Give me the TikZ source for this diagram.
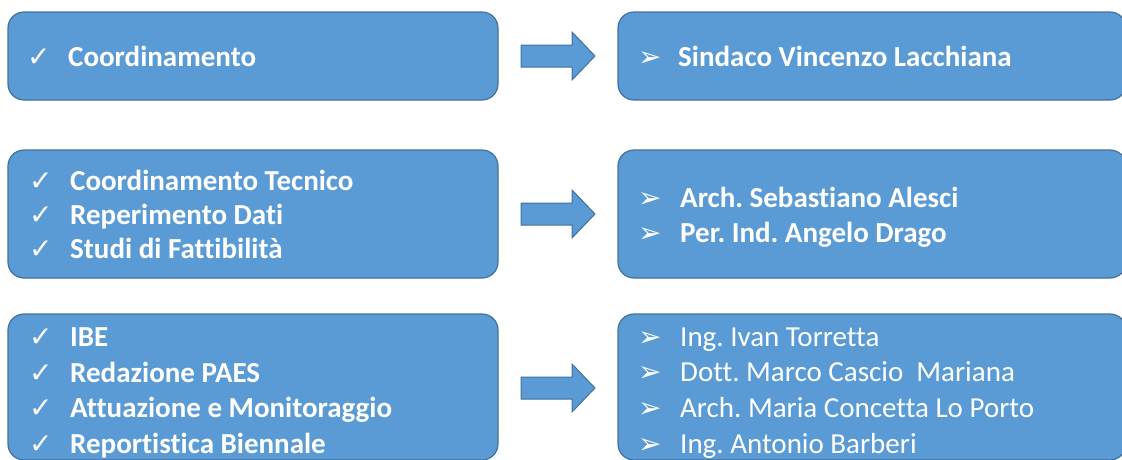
\documentclass[tikz,border=0pt]{standalone}
\usepackage{fontspec}
\setmainfont{Carlito}[Ligatures=NoCommon]
\newfontfamily\symfont{DejaVu Sans}
\usetikzlibrary{calc}
\definecolor{boxblue}{HTML}{5B9BD5}
\definecolor{boxedge}{HTML}{41719C}
\frenchspacing
\begin{document}
\begin{tikzpicture}[x=1pt,y=-1pt,
  box/.style={draw=boxedge,line width=1.2pt,fill=boxblue,rounded corners=16pt,inner sep=0pt},
  lbl/.style={anchor=base west,text=white,inner sep=0pt,font=\fontsize{29}{35}\selectfont\bfseries},
  lblr/.style={anchor=base west,text=white,inner sep=0pt,font=\fontsize{29}{35}\selectfont},
  chk/.style={anchor=base west,text=white,inner sep=0pt,font=\symfont\fontsize{28}{30}\selectfont},
  blockarrow/.pic={\draw[draw=boxedge,line width=1pt,fill=boxblue] (-37,-11) -- (14,-11) -- (14,-24) -- (37,0) -- (14,24) -- (14,11) -- (-37,11) -- cycle;}]
\useasboundingbox (0,0) rectangle (1122,459);
% boxes
\node[box,minimum width=490pt,minimum height=88pt] (L1) at (253,56) {};
\node[box,minimum width=490pt,minimum height=128pt] (L2) at (253,214) {};
\node[box,minimum width=490pt,minimum height=146pt] (L3) at (253,387) {};
\node[box,minimum width=508pt,minimum height=88pt] (R1) at (872,56) {};
\node[box,minimum width=508pt,minimum height=128pt] (R2) at (872,214) {};
\node[box,minimum width=508pt,minimum height=146pt] (R3) at (872,387) {};
% arrows
\pic at ($(L1.east)!0.5!(R1.west)$) {blockarrow};
\pic at ($(L2.east)!0.5!(R2.west)$) {blockarrow};
\pic at ($(L3.east)!0.5!(R3.west)+(0,1)$) {blockarrow};
% row 1
\node[chk] (c11) at (27,66) {✓};
\node[lbl] (t11) at (68,66) {Coordinamento};
\node[chk] (r11) at (638,66) {➢};
\node[lbl] (s11) at (678,66) {Sindaco Vincenzo Lacchiana};
% row 2
\node[chk] (c21) at (29,190) {✓};
\node[lbl] (t21) at (70,190) {Coordinamento Tecnico};
\node[chk] (c22) at (29,224) {✓};
\node[lbl] (t22) at (70,224) {Reperimento Dati};
\node[chk] (c23) at (29,258) {✓};
\node[lbl] (t23) at (70,258) {Studi di Fattibilità};
\node[chk] (r21) at (638,207) {➢};
\node[lbl] (s21) at (680,207) {Arch. Sebastiano Alesci};
\node[chk] (r22) at (638,242) {➢};
\node[lbl] (s22) at (680,242) {Per. Ind. Angelo Drago};
% row 3
\node[chk] (c31) at (29,346) {✓};
\node[lbl] (t31) at (70,346) {IBE};
\node[chk] (c32) at (29,382) {✓};
\node[lbl] (t32) at (70,382) {Redazione PAES};
\node[chk] (c33) at (29,417) {✓};
\node[lbl] (t33) at (70,417) {Attuazione e Monitoraggio};
\node[chk] (c34) at (29,453) {✓};
\node[lbl] (t34) at (70,453) {Reportistica Biennale};
\node[chk] (r31) at (638,346) {➢};
\node[lblr] (s31) at (680,346) {Ing. Ivan Torretta};
\node[chk] (r32) at (638,381) {➢};
\node[lblr] (s32) at (680,381) {Dott. Marco Cascio~ Mariana};
\node[chk] (r33) at (638,417) {➢};
\node[lblr] (s33) at (680,417) {Arch. Maria Concetta Lo Porto};
\node[chk] (r34) at (638,453) {➢};
\node[lblr] (s34) at (680,453) {Ing. Antonio Barberi};
\end{tikzpicture}
\end{document}
